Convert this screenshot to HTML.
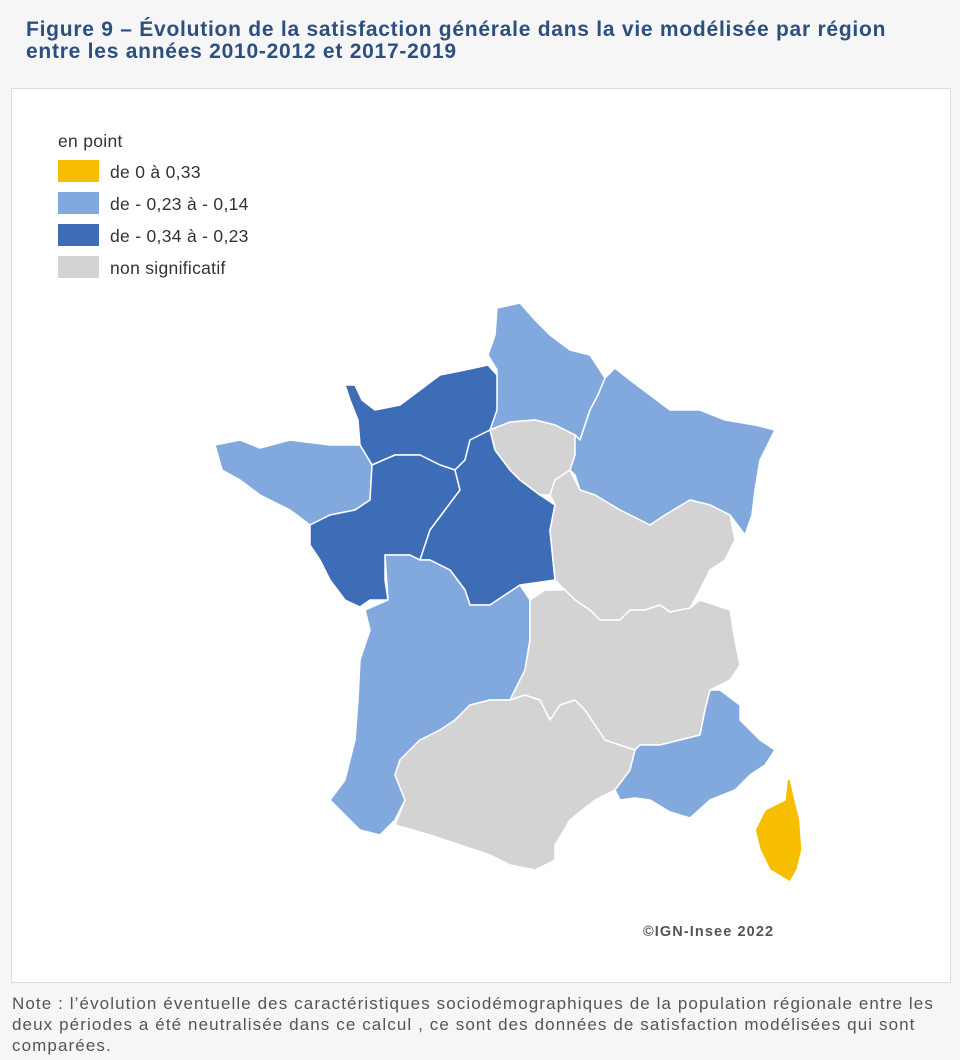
<!DOCTYPE html>
<html><head><meta charset="utf-8"><style>
body{margin:0;width:960px;height:1060px;background:#f6f6f6;font-family:"Liberation Sans",sans-serif;position:relative;overflow:hidden}
.t{position:absolute;left:26px;top:19px;font-size:21px;font-weight:bold;color:#2c4f7f;line-height:22px;letter-spacing:0.75px;white-space:nowrap}
.panel{position:absolute;left:11px;top:88px;width:938px;height:893px;background:#fff;border:1px solid #ddd}
.note{position:absolute;left:12px;top:993px;font-size:17px;color:#555;line-height:21px;letter-spacing:1.1px;white-space:nowrap}
</style></head><body>
<div class="t">Figure 9 – Évolution de la satisfaction générale dans la vie modélisée par région<br>entre les années 2010-2012 et 2017-2019</div>
<div class="panel"></div>
<svg width="960" height="1060" style="position:absolute;left:0;top:0">
<g font-family="Liberation Sans,sans-serif" font-size="17.5" fill="#333" letter-spacing="0.3">
<text x="58" y="147">en point</text>
<rect x="58" y="160" width="41" height="22" fill="#f7be00"/><text x="110" y="178">de 0 à 0,33</text>
<rect x="58" y="192" width="41" height="22" fill="#82a9dd"/><text x="110" y="210">de - 0,23 à - 0,14</text>
<rect x="58" y="224" width="41" height="22" fill="#3c6db6"/><text x="110" y="242">de - 0,34 à - 0,23</text>
<rect x="58" y="256" width="41" height="22" fill="#d3d3d3"/><text x="110" y="274">non significatif</text>
<text x="643" y="936" font-size="14.5" font-weight="bold" fill="#555" letter-spacing="1.1">©IGN-Insee 2022</text>
</g>
<g stroke="#fff" stroke-width="1.5" stroke-linejoin="round">
<polygon fill="#82a9dd" points="497,308 520,303 535,320 550,335 570,350 590,355 605,378 598,395 590,410 580,440 575,435 555,425 535,420 510,422 490,430 497,400 497,370 488,355 495,335"/>
<polygon fill="#3c6db6" points="345,385 355,385 362,400 375,410 400,405 420,390 440,375 465,370 488,365 497,375 497,410 490,430 470,440 465,460 455,470 440,465 420,455 395,455 372,465 360,445 358,420 350,400"/>
<polygon fill="#82a9dd" points="215,445 240,440 260,448 290,440 330,445 360,445 372,465 370,500 355,510 330,515 310,525 290,510 260,495 240,480 222,470"/>
<polygon fill="#3c6db6" points="310,525 330,515 355,510 370,500 372,465 395,455 420,455 440,465 455,470 460,490 445,510 430,530 420,560 410,555 385,555 385,580 388,600 370,600 360,607 345,600 330,580 320,560 310,545"/>
<polygon fill="#3c6db6" points="455,470 465,460 470,440 490,430 495,450 510,470 520,480 540,495 555,505 550,530 555,580 520,585 490,605 470,605 465,590 450,570 430,560 420,560 430,530 445,510 460,490"/>
<polygon fill="#d3d3d3" points="490,430 510,422 535,420 555,425 575,435 575,455 570,470 555,480 550,495 540,495 520,480 510,470 495,450"/>
<polygon fill="#82a9dd" points="598,395 605,378 615,368 630,380 650,395 670,410 700,410 725,420 755,425 775,430 760,460 755,490 752,515 745,535 730,515 710,505 690,500 665,515 650,525 620,510 595,495 580,490 575,475 570,470 575,455 575,435 580,440 590,410"/>
<polygon fill="#d3d3d3" points="555,480 570,470 580,490 595,495 620,510 650,525 665,515 690,500 710,505 730,515 735,540 725,560 710,570 700,590 690,608 670,612 660,605 645,610 630,610 620,620 600,620 590,610 575,600 565,590 555,580 550,530 555,505 550,495"/>
<polygon fill="#82a9dd" points="385,555 410,555 420,560 430,560 450,570 465,590 470,605 490,605 520,585 530,600 530,640 525,670 510,700 490,700 470,705 455,720 440,730 420,740 400,760 395,775 405,800 395,820 380,835 360,830 345,815 330,800 345,780 355,740 358,700 360,660 370,630 365,610 388,600"/>
<polygon fill="#d3d3d3" points="400,760 420,740 440,730 455,720 470,705 490,700 510,700 525,695 540,700 550,720 560,705 575,700 585,710 595,725 605,740 620,745 635,750 630,770 615,790 595,800 570,820 555,845 555,860 535,870 510,865 490,855 460,845 430,835 395,825 405,800 395,775"/>
<polygon fill="#d3d3d3" points="530,600 545,590 565,590 575,600 590,610 600,620 620,620 630,610 645,610 660,605 670,612 690,608 700,600 715,605 730,610 735,640 740,665 730,680 710,690 705,710 700,735 680,740 660,745 640,745 635,750 620,745 605,740 595,725 585,710 575,700 560,705 550,720 540,700 525,695 510,700 525,670 530,640"/>
<polygon fill="#82a9dd" points="660,745 680,740 700,735 705,710 710,690 720,690 740,705 740,720 760,740 775,750 765,765 750,775 735,790 710,800 690,818 670,812 650,800 635,798 620,800 615,790 630,770 635,750 640,745"/>
<polygon fill="#f7be00" points="790,778 795,800 800,820 802,850 797,870 790,882 770,870 760,850 755,830 765,810 785,800 787,780"/>
</g>
</svg>
<div class="note">Note : l’évolution éventuelle des caractéristiques sociodémographiques de la population régionale entre les<br>deux périodes a été neutralisée dans ce calcul , ce sont des données de satisfaction modélisées qui sont<br>comparées.</div>
</body></html>
